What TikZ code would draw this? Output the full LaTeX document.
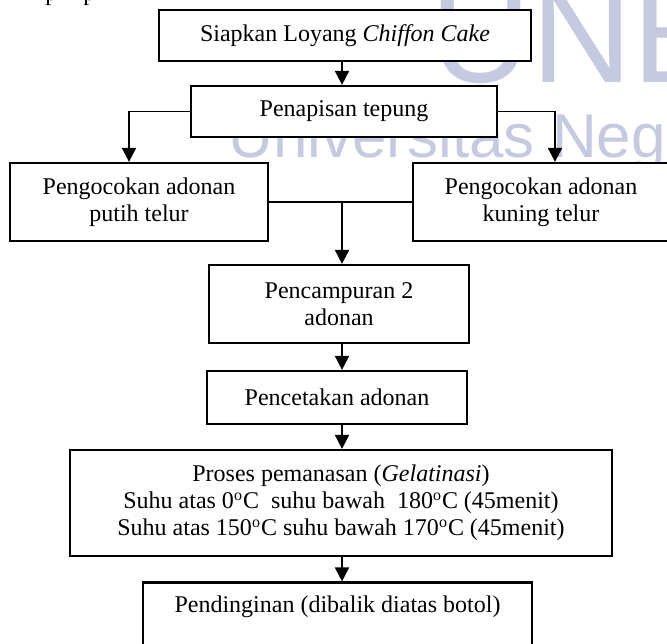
\documentclass[tikz,border=0pt]{standalone}
\usepackage{fontspec}
\usepackage{graphicx}
\setmainfont{Liberation Serif}
\newfontfamily\wmfont{Liberation Sans}
\usetikzlibrary{arrows.meta}
\definecolor{wmcol}{RGB}{198,202,224}
\tikzset{
  box/.style={draw, line width=1.1pt, fill=white, inner sep=0pt, align=center,
    font=\fontsize{12}{13.5}\selectfont},
  ln/.style={line width=0.9pt},
  arr/.style={line width=0.9pt, -{Triangle[width=7pt,length=7pt]}},
  wm/.style={text=wmcol, inner sep=0pt, anchor=base west}
}
\begin{document}
\begin{tikzpicture}[x=0.5pt,y=-0.5pt]
\useasboundingbox (0,0) rectangle (667,643);
\clip (0,0) rectangle (667,643);
\fill[white] (0,0) rectangle (667,643);
% watermark
\node[wm, font=\wmfont\fontsize{70}{70}\selectfont] (wmA) at (430,82) {UNE};
\node[wm, font=\wmfont\fontsize{31}{31}\selectfont] (wmB) at (228,157) {Universitas Negeri};
% cut-off text from above
\node[wm, text=black, font=\fontsize{12}{13.5}\selectfont] (pA) at (45,0) {p};
\node[wm, text=black, font=\fontsize{12}{13.5}\selectfont] (pB) at (83,0) {p};
\coordinate (ax) at (342,0);
\coordinate (lx) at (129,0);
\coordinate (rx) at (555,0);
% boxes
\node[box, minimum width=186pt, minimum height=25.5pt] (B1) at (345,35.5) {Siapkan Loyang \textit{Chiffon Cake}};
\node[box, minimum width=153pt, minimum height=25.5pt] (B2) at (344,111.5) {Penapisan tepung};
\node[box, minimum width=129pt, minimum height=39pt] (B3) at (139,202) {Pengocokan adonan\\putih telur};
\node[box, minimum width=128pt, minimum height=39pt] (B4) at (541,202) {Pengocokan adonan\\kuning telur};
\node[box, minimum width=130pt, minimum height=39pt] (B5) at (339,304) {Pencampuran 2\\adonan};
\node[box, minimum width=130pt, minimum height=26.5pt] (B6) at (337,397.5) {Pencetakan adonan};
\node[box, minimum width=271pt, minimum height=53pt] (B7) at (341,503) {Proses pemanasan (\textit{Gelatinasi})\\Suhu atas 0\textsuperscript{o}C\ \ suhu bawah\ \ 180\textsuperscript{o}C (45menit)\\Suhu atas 150\textsuperscript{o}C suhu bawah 170\textsuperscript{o}C (45menit)};
\node[box, minimum width=194.5pt, minimum height=39pt] (B8) at (337.5,621.5) {Pendinginan (dibalik diatas botol)\\\strut};
% connectors
\draw[arr] (B1.south -| ax) -- (B2.north -| ax);
\draw[arr] (B2.west) -| (lx |- B3.north);
\draw[arr] (B2.east) -| (rx |- B4.north);
\draw[ln] (B3.east) -- (B4.west);
\draw[arr] (B3.east -| ax) -- (B5.north -| ax);
\draw[arr] (B5.south -| ax) -- (B6.north -| ax);
\draw[arr] (B6.south -| ax) -- (B7.north -| ax);
\draw[arr] (B7.south -| ax) -- (B8.north -| ax);
\end{tikzpicture}
\end{document}
